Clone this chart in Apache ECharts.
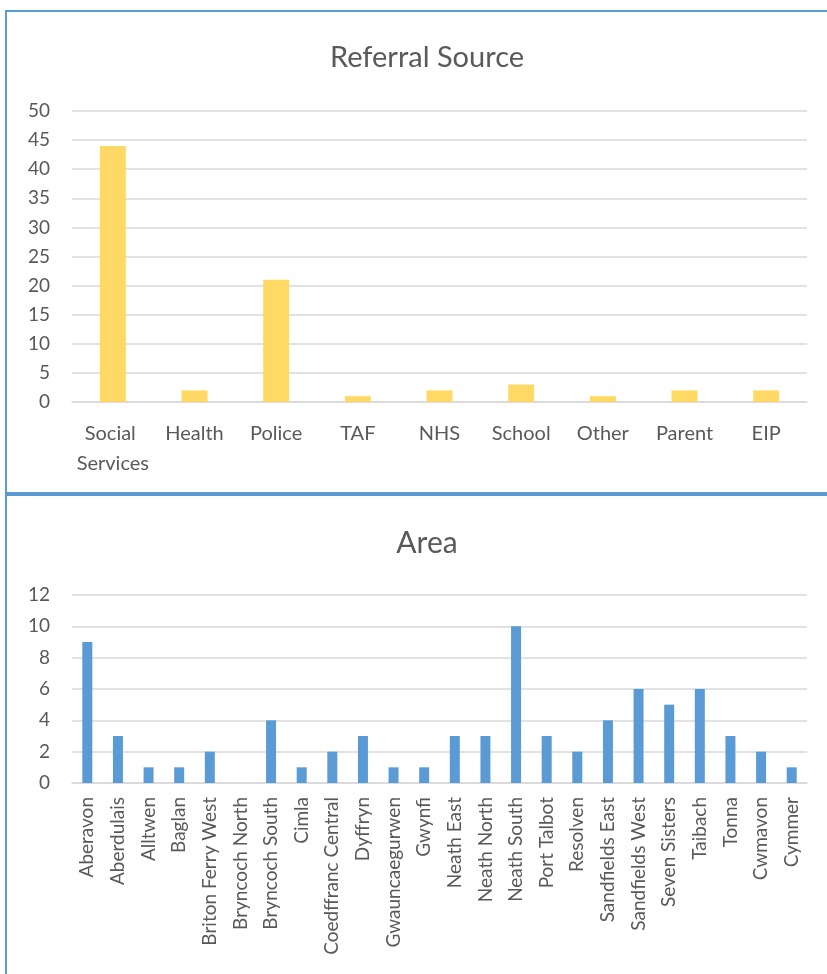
<!DOCTYPE html>
<html>
<head>
<meta charset="utf-8">
<script src="https://cdn.jsdelivr.net/npm/echarts@6/dist/echarts.min.js"></script>
<style>
  html, body { margin: 0; padding: 0; background: #fff; }
  #chart { width: 827px; height: 974px; }
</style>
</head>
<body>
<div id="chart"></div>
<script>
// referral source chart
const sourceCategories = ['Social Services', 'Health', 'Police', 'TAF', 'NHS', 'School', 'Other', 'Parent', 'EIP']
const sourceValues = [44, 2, 21, 1, 2, 3, 1, 2, 2]
const sourceTicks = [0, 5, 10, 15, 20, 25, 30, 35, 40, 45, 50]

// area chart
const areaCategories = ['Aberavon', 'Aberdulais', 'Alltwen', 'Baglan', 'Briton Ferry West', 'Bryncoch North',
  'Bryncoch South', 'Cimla', 'Coedffranc Central', 'Dyffryn', 'Gwauncaegurwen', 'Gwynfi', 'Neath East',
  'Neath North', 'Neath South', 'Port Talbot', 'Resolven', 'Sandfields East', 'Sandfields West',
  'Seven Sisters', 'Taibach', 'Tonna', 'Cwmavon', 'Cymmer']
const areaValues = [9, 3, 1, 1, 2, 0, 4, 1, 2, 3, 1, 1, 3, 3, 10, 3, 2, 4, 6, 5, 6, 3, 2, 1]
const areaTicks = [0, 2, 4, 6, 8, 10, 12]

const font = 'Lato, "Open Sans", sans-serif'
const textColor = '#595959'
const gridColor = '#d9d9d9'
const borderColor = '#5b9bd5'

const chart = echarts.init(document.getElementById('chart'))

const yAxisBase = (ticks, size) => ({
  type: 'value',
  min: ticks[0],
  max: ticks[ticks.length - 1],
  interval: ticks[1] - ticks[0],
  axisLine: { show: false },
  axisTick: { show: false },
  axisLabel: { color: textColor, fontFamily: font, fontSize: size, margin: 22 },
  splitLine: { lineStyle: { color: gridColor, width: 1.5 } }
})

const option = {
  animation: false,
  backgroundColor: '#fff',
  title: [
    {
      text: 'Referral Source',
      left: 422,
      textAlign: 'center',
      top: 38,
      textStyle: { color: textColor, fontFamily: font, fontSize: 29, fontWeight: 'normal' }
    },
    {
      text: 'Area',
      left: 422,
      textAlign: 'center',
      top: 523,
      textStyle: { color: textColor, fontFamily: font, fontSize: 30, fontWeight: 'normal' }
    }
  ],
  grid: [
    { left: 72, right: 20, top: 111, height: 291 },
    { left: 72, right: 20, top: 595, height: 188 }
  ],
  xAxis: [
    {
      type: 'category',
      gridIndex: 0,
      data: sourceCategories,
      axisLine: { lineStyle: { color: gridColor, width: 1.5 } },
      axisTick: { show: false },
      axisLabel: {
        color: textColor, fontFamily: font, fontSize: 20, margin: 17,
        interval: 0, width: 80, overflow: 'break', lineHeight: 30
      }
    },
    {
      type: 'category',
      gridIndex: 1,
      data: areaCategories,
      axisLine: { lineStyle: { color: gridColor, width: 1.5 } },
      axisTick: { show: false },
      axisLabel: {
        color: textColor, fontFamily: font, fontSize: 19, margin: 14,
        interval: 0, rotate: 90
      }
    }
  ],
  yAxis: [
    Object.assign(yAxisBase(sourceTicks, 19), { gridIndex: 0 }),
    Object.assign(yAxisBase(areaTicks, 19), { gridIndex: 1 })
  ],
  series: [
    {
      type: 'bar',
      xAxisIndex: 0,
      yAxisIndex: 0,
      data: sourceValues,
      barWidth: 26,
      itemStyle: { color: '#ffd966' }
    },
    {
      type: 'bar',
      xAxisIndex: 1,
      yAxisIndex: 1,
      data: areaValues,
      barWidth: 10,
      itemStyle: { color: '#5b9bd5' }
    }
  ],
  graphic: [
    // panel borders like the spreadsheet frames
    { type: 'rect', shape: { x: 5, y: 10, width: 830, height: 2 }, style: { fill: borderColor } },
    { type: 'rect', shape: { x: 5, y: 10, width: 2, height: 970 }, style: { fill: borderColor } },
    { type: 'rect', shape: { x: 5, y: 492, width: 830, height: 4 }, style: { fill: borderColor } }
  ]
}

chart.setOption(option)
</script>
</body>
</html>
